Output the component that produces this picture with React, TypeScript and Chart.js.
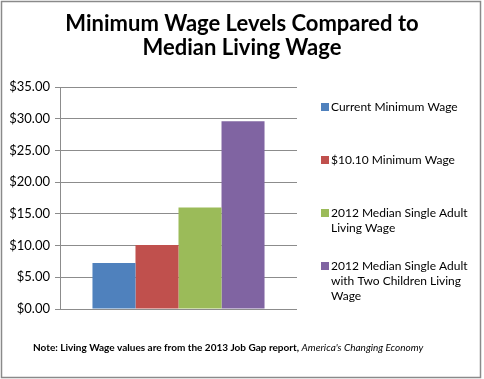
import React, { useEffect, useRef } from "react";
import { Chart, registerables } from "chart.js";

Chart.register(...registerables);

const categories = [""];
const seriesLabels = [
  "Current Minimum Wage",
  "$10.10 Minimum Wage",
  "2012 Median Single Adult Living Wage",
  "2012 Median Single Adult with Two Children Living Wage",
];
const seriesValues = [7.25, 10.1, 16.0, 29.6];
const seriesColors = ["#4F81BD", "#C0504D", "#9BBB59", "#8064A2"];
const titleLines = ["Minimum Wage Levels Compared to", "Median Living Wage"];
const noteBold = "Note: Living Wage values are from the 2013 Job Gap report, ";
const noteItalic = "America's Changing Economy";

const FONT = "Lato, 'Noto Sans', sans-serif";

function wrapText(ctx: CanvasRenderingContext2D, text: string, maxW: number): string[] {
  const words = text.split(" ");
  const lines: string[] = [];
  let cur = "";
  for (const w of words) {
    const test = cur ? cur + " " + w : w;
    if (ctx.measureText(test).width > maxW && cur) {
      lines.push(cur);
      cur = w;
    } else {
      cur = test;
    }
  }
  if (cur) lines.push(cur);
  return lines;
}

const decorPlugin = {
  id: "decor",
  afterDraw(chart: any) {
    const ctx: CanvasRenderingContext2D = chart.ctx;
    ctx.save();
    // outer border
    ctx.strokeStyle = "#8a8a8a";
    ctx.lineWidth = 1.5;
    ctx.strokeRect(1.5, 1.5, 479, 376);

    // title
    ctx.fillStyle = "#000";
    ctx.textAlign = "center";
    ctx.textBaseline = "alphabetic";
    ctx.font = `bold 22px ${FONT}`;
    ctx.fillText(titleLines[0], 242, 31);
    ctx.fillText(titleLines[1], 242, 55);

    // legend
    ctx.textAlign = "left";
    ctx.textBaseline = "middle";
    ctx.font = `12px ${FONT}`;
    const startYs = [107, 160, 213, 266];
    chart.data.datasets.forEach((ds: any, i: number) => {
      const y = startYs[i];
      ctx.fillStyle = ds.backgroundColor;
      ctx.fillRect(321, y - 4, 8, 8);
      ctx.fillStyle = "#000";
      const lines = wrapText(ctx, ds.label, 146);
      lines.forEach((ln, j) => ctx.fillText(ln, 331, y + j * 15));
    });

    // note
    ctx.textBaseline = "alphabetic";
    ctx.font = `bold 10px ${FONT}`;
    ctx.fillStyle = "#000";
    ctx.fillText(noteBold, 33, 351);
    const w = ctx.measureText(noteBold).width;
    ctx.font = `italic 10px ${FONT}`;
    ctx.fillText(noteItalic, 33 + w, 351);
    ctx.restore();
  },
};

export default function App() {
  const ref = useRef<HTMLCanvasElement>(null);
  useEffect(() => {
    document.body.style.margin = "0";
    const chart = new Chart(ref.current!, {
      type: "bar",
      data: {
        labels: categories,
        datasets: seriesLabels.map((l, i) => ({
          label: l,
          data: [seriesValues[i]],
          backgroundColor: seriesColors[i],
          borderWidth: 0,
          categoryPercentage: 0.726,
          barPercentage: 1,
        })),
      },
      options: {
        animation: false,
        responsive: false,
        devicePixelRatio: 1,
        layout: { padding: { left: 0, top: 87, right: 187, bottom: 70 } },
        plugins: { legend: { display: false }, title: { display: false }, tooltip: { enabled: false } },
        scales: {
          x: { display: false },
          y: {
            min: 0,
            max: 35,
            ticks: {
              stepSize: 5,
              padding: 5,
              color: "#000",
              font: { family: FONT, size: 13 },
              callback: (v: any) => "$" + Number(v).toFixed(2),
            },
            grid: { color: "#8c8c8c", tickLength: 5, lineWidth: 1 },
            border: { color: "#8c8c8c", width: 1 },
            afterFit: (s: any) => {
              s.width = 60;
            },
          },
        },
      },
      plugins: [decorPlugin],
    });
    return () => chart.destroy();
  }, []);
  return (
    <div style={{ position: "absolute", left: 0, top: 0, width: 484, height: 379, background: "#fff" }}>
      <canvas ref={ref} width={484} height={379} style={{ width: 484, height: 379 }} />
    </div>
  );
}
